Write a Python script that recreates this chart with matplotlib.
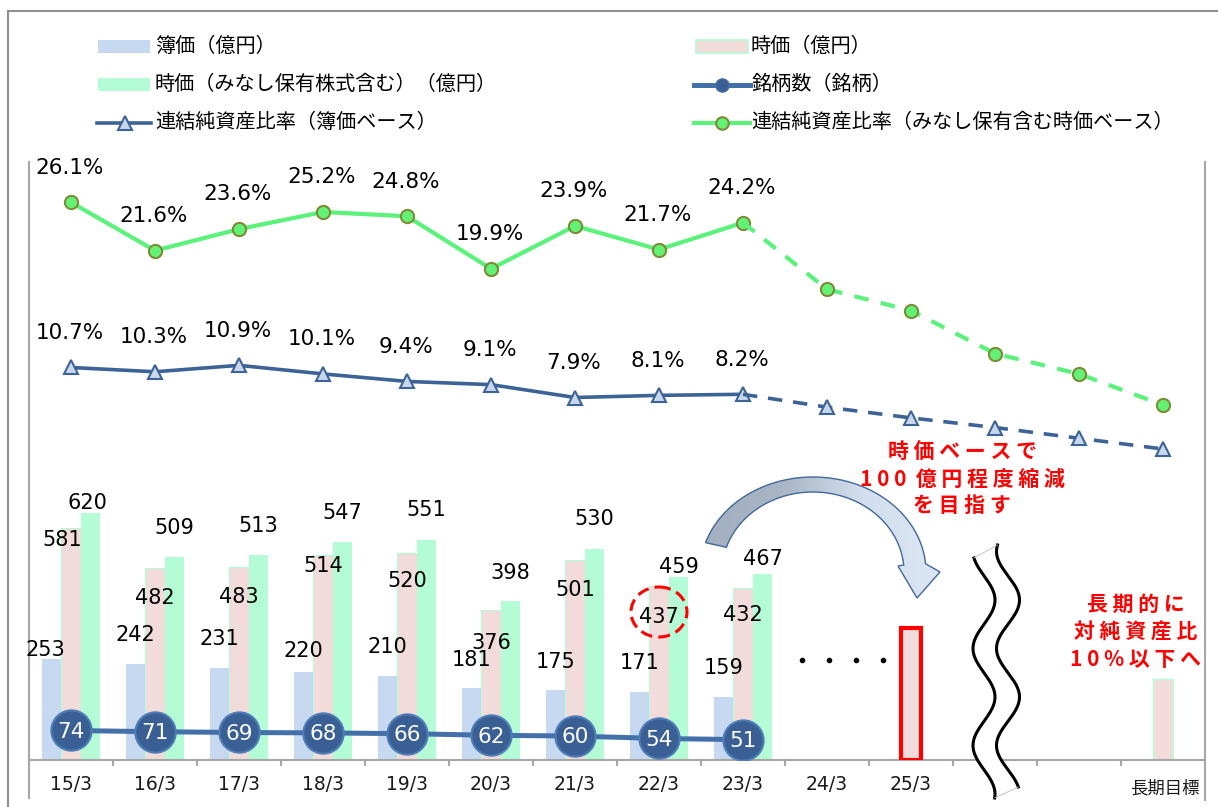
import numpy as np
import matplotlib
matplotlib.use('Agg')
import matplotlib.pyplot as plt
from matplotlib.patches import Polygon, Rectangle, Ellipse
from matplotlib.colors import LinearSegmentedColormap

plt.rcParams['font.family'] = ['DejaVu Sans', 'Noto Sans CJK JP']

# ---------------- data ----------------
categories = ['15/3', '16/3', '17/3', '18/3', '19/3', '20/3', '21/3', '22/3', '23/3',
              '24/3', '25/3', '', '', '長期目標']
book_value = [253, 242, 231, 220, 210, 181, 175, 171, 159]            # 簿価（億円）
market_value = [581, 482, 483, 514, 520, 376, 501, 437, 432]          # 時価（億円）
market_target_25 = 332                                                # 25/3 目標（時価）
market_target_long = 203                                              # 長期目標（時価）
market_incl_deemed = [620, 509, 513, 547, 551, 398, 530, 459, 467]    # 時価（みなし保有株式含む）
holdings_count = [74, 71, 69, 68, 66, 62, 60, 54, 51]                 # 銘柄数
ratio_book = [10.7, 10.3, 10.9, 10.1, 9.4, 9.1, 7.9, 8.1, 8.2]         # 連結純資産比率（簿価）
ratio_book_plan = [7.0, 6.0, 5.1, 4.1, 3.1]
ratio_market = [26.1, 21.6, 23.6, 25.2, 24.8, 19.9, 23.9, 21.7, 24.2]  # 連結純資産比率（時価）
ratio_market_plan = [18.0, 16.0, 12.0, 10.1, 7.2]

legend_labels = ['簿価（億円）', '時価（億円）', '時価（みなし保有株式含む）（億円）',
                 '銘柄数（銘柄）', '連結純資産比率（簿価ベース）',
                 '連結純資産比率（みなし保有含む時価ベース）']

# label offsets (pixels, + = above the bar top) - layout only
book_lbl_dy = [9, 29, 29, 21, 29, 28, 28, 29, 29]
book_lbl_dx = [-6, 0, 0, 0, 0, 0, 0, 0, 0]
mkt_lbl_dy = [-12, -30, -30, -11, -28, -33, -30, -31, -27]
mkt_lbl_dx = [-8.5, 0, 0, 0, 0, 0, 0, 0, 0]
incl_lbl_dy = [10, 29, 29.5, 29, 30, 28, 30, 10.5, 15]
incl_lbl_dx = [-3, 0, 0, 0, 0, 0, 0, 0, 0]

# ---------------- style ----------------
C_BOOK = '#C6D9F1'
C_MKT = '#F2DCDB'
C_INCL = '#B3FCD6'
C_CNT_LINE = '#4470AA'
C_CNT_FACE = '#3A5F94'
C_BLUE = '#3C6398'
C_GREEN = '#5AF27A'
C_AXIS = '#A6A6A6'
PX = 0.72  # pixel -> points

W, H = 1218, 807
fig = plt.figure(figsize=(W / 100, H / 100), dpi=100)
L, R, T, B = 29, 1205, 162, 760
ax = fig.add_axes([L / W, (H - B) / H, (R - L) / W, (B - T) / H])
ax.set_xlim(-0.5, 13.5)
ax.set_ylim(0, 1500)

n = len(book_value)
x = np.arange(n)
bw = 0.232
ax.bar(x - bw, book_value, bw, color=C_BOOK, zorder=2)
ax.bar(x, market_value, bw, color=C_MKT, edgecolor=C_INCL, lw=0.8, zorder=2)
ax.bar(x + bw, market_incl_deemed, bw, color=C_INCL, zorder=2)
ax.bar([10], [market_target_25], bw, color=C_MKT, edgecolor='#FF0000', lw=3, zorder=3)
ax.bar([13], [market_target_long], bw, color=C_MKT, edgecolor=C_INCL, lw=1, zorder=2)

for i in range(n):
    ax.annotate(str(book_value[i]), (x[i] - bw, book_value[i]),
                xytext=(book_lbl_dx[i] * PX, book_lbl_dy[i] * PX), textcoords='offset points',
                ha='center', va='center', fontsize=15, zorder=6)
    ax.annotate(str(market_value[i]), (x[i], market_value[i]),
                xytext=(mkt_lbl_dx[i] * PX, mkt_lbl_dy[i] * PX), textcoords='offset points',
                ha='center', va='center', fontsize=15, zorder=6)
    ax.annotate(str(market_incl_deemed[i]), (x[i] + bw, market_incl_deemed[i]),
                xytext=(incl_lbl_dx[i] * PX, incl_lbl_dy[i] * PX), textcoords='offset points',
                ha='center', va='center', fontsize=15, zorder=6)

# holdings count line
ax.plot(x, holdings_count, color=C_CNT_LINE, lw=3.6, marker='o', ms=29,
        mfc=C_CNT_FACE, mec='#4E7DB8', mew=1.5, zorder=4)
for xi, c in zip(x, holdings_count):
    ax.annotate(str(c), (xi, c), xytext=(0, -1), textcoords='offset points',
                color='white', ha='center', va='center', fontsize=15.5, zorder=7)

# axes styling
ax.spines['top'].set_visible(False)
for s in ['left', 'right', 'bottom']:
    ax.spines[s].set_color(C_AXIS)
    ax.spines[s].set_linewidth(1.5)
ax.set_yticks([])
ax.set_xticks(np.arange(0.5, 13, 1))
ax.set_xticklabels([])
ax.tick_params(axis='x', direction='out', length=4.5, width=1.5, color=C_AXIS)
ax.patch.set_alpha(0)
xt = ax.get_xaxis_transform()
for i, lab in enumerate(categories):
    if lab == '長期目標':
        ax.text(i + 0.02, -28 / (B - T), lab, transform=xt, ha='center', va='center',
                fontsize=12.5, color='#1a1a1a')
    elif lab:
        ax.text(i, -25 / (B - T), lab, transform=xt, ha='center', va='center',
                fontsize=13.5, color='#1a1a1a')

# ratio lines (secondary axis)
ax2 = ax.twinx()
ax2.set_ylim(-25.9, 29.86)
ax2.set_yticks([])
for s in ax2.spines.values():
    s.set_visible(False)
xa = np.arange(len(ratio_market))
ax2.plot(xa, ratio_market, color=C_GREEN, lw=3, marker='o', ms=9.5,
         mfc='#62F274', mec='#7E8B36', mew=1.5, zorder=3)
xp = np.arange(len(ratio_market) - 1, len(ratio_market) + len(ratio_market_plan))
ax2.plot(xp, [ratio_market[-1]] + ratio_market_plan, color=C_GREEN, lw=3,
         ls=(0, (3.5, 3)), marker='o', ms=9.5, markevery=list(range(1, len(xp))),
         mfc='#62F274', mec='#7E8B36', mew=1.5, zorder=3)
ax2.plot(xa, ratio_book, color=C_BLUE, lw=2.6, marker='^', ms=10.5,
         mfc='#C9D7EC', mec=C_BLUE, mew=1.5, zorder=3)
ax2.plot(xp, [ratio_book[-1]] + ratio_book_plan, color=C_BLUE, lw=2.6,
         ls=(0, (4, 3)), marker='^', ms=10.5, markevery=list(range(1, len(xp))),
         mfc='#C9D7EC', mec=C_BLUE, mew=1.5, zorder=3)
for xi, v in zip(xa, ratio_market):
    ax2.annotate(f'{v:.1f}%', (xi, v), xytext=(-1, 25), textcoords='offset points',
                 ha='center', va='center', fontsize=15.5, annotation_clip=False)
for xi, v in zip(xa, ratio_book):
    ax2.annotate(f'{v:.1f}%', (xi, v), xytext=(-1, 25), textcoords='offset points',
                 ha='center', va='center', fontsize=15.5, annotation_clip=False)

# ---------------- overlay (annotations in pixel space) ----------------
ov = fig.add_axes([0, 0, 1, 1], zorder=10)
ov.patch.set_alpha(0)
ov.axis('off')

# outer frame
ov.plot([8, 1218], [10.5, 10.5], color='#8E8E8E', lw=1.5)
ov.plot([8, 8], [10.5, 807], color='#8E8E8E', lw=1.5)
# axis line extensions below the category axis
ov.plot([L, L], [B, 798], color=C_AXIS, lw=1.5)
ov.plot([R, R], [B, 800], color=C_AXIS, lw=1.5)

# legend
fs_leg = 14.5
ov.add_patch(Rectangle((98, 40), 52, 13, fc=C_BOOK, ec='none'))
ov.text(155, 46, legend_labels[0], va='center', ha='left', fontsize=fs_leg)
ov.add_patch(Rectangle((98, 78), 52, 13, fc=C_INCL, ec='none'))
ov.text(155, 84, legend_labels[2], va='center', ha='left', fontsize=fs_leg)
ov.plot([97, 151], [122.5, 122.5], color=C_BLUE, lw=2.6)
ov.plot([125], [122.5], marker='^', ms=9.5, mfc='#C9D7EC', mec=C_BLUE, mew=1.5)
ov.text(155, 122, legend_labels[4], va='center', ha='left', fontsize=fs_leg)
ov.add_patch(Rectangle((696, 40), 52, 13, fc=C_MKT, ec=C_INCL, lw=1.2))
ov.text(751, 46, legend_labels[1], va='center', ha='left', fontsize=fs_leg)
ov.plot([694, 750], [84.5, 84.5], color=C_CNT_LINE, lw=3.6)
ov.plot([722], [84.5], marker='o', ms=9.5, mfc=C_CNT_FACE, mec=C_CNT_LINE)
ov.text(751, 84, legend_labels[3], va='center', ha='left', fontsize=fs_leg)
ov.plot([694, 750], [122.5, 122.5], color=C_GREEN, lw=3)
ov.plot([722], [122.5], marker='o', ms=9, mfc='#62F274', mec='#7E8B36', mew=1.5)
ov.text(751, 122, legend_labels[5], va='center', ha='left', fontsize=fs_leg)

# curved arrow with gradient
th_o = np.radians(np.linspace(162, 5, 90))
th_i = np.radians(np.linspace(5, 162, 90))
ox = 813 + 113 * np.cos(th_o)
oy = 572 - 95 * np.sin(th_o)
ix = 813 + 91 * np.cos(th_i)
iy = 572 - 80 * np.sin(th_i)
verts = list(zip(ox, oy)) + [(940, 572), (917, 598), (898, 566)] + list(zip(ix, iy))
arrow = Polygon(verts, closed=True, fc='none', ec='#41689C', lw=1, zorder=3)
ov.add_patch(arrow)
cmap = LinearSegmentedColormap.from_list('g', ['#A3B0BF', '#A8B5C4', '#D3DFEE', '#DCE6F3'])
im = ov.imshow(np.linspace(0, 1, 256).reshape(1, -1), extent=(700, 945, 600, 470),
               cmap=cmap, aspect='auto', zorder=2)
im.set_clip_path(arrow)

# text in red
red_fam = ['Noto Sans CJK JP', 'DejaVu Sans']
for txt, yy in [('時 価 ベ ー ス で', 452), ('1 0 0  億 円 程 度 縮 減', 479), ('を 目 指 す', 506)]:
    ov.text(962, yy, txt, ha='center', va='center', fontsize=15, fontweight='bold',
            color='#FF0000', family=red_fam)
for txt, yy in [('長 期 的 に', 604), ('対 純 資 産 比', 632), ('1 0 % 以 下 へ', 659)]:
    ov.text(1136, yy, txt, ha='center', va='center', fontsize=15, fontweight='bold',
            color='#FF0000', family=red_fam)

# dashed red circle around 22/3 market value label
ov.add_patch(Ellipse((659, 612), 56, 50, fill=False, ec='#FF0000', lw=2.2,
                     ls=(0, (3.9, 2.0))))

# dots for 24/3
ov.scatter([802, 829, 856, 883], [660] * 4, s=9, color='black', zorder=4)

# wavy break
yl = np.linspace(558, 798, 240)
xl = 984 + 11 * np.sin(2 * np.pi * (yl - 575.75) / 97)
yr = np.linspace(545, 787, 240)
xr = 1008 + 11.5 * np.sin(2 * np.pi * (yr - 575.75) / 97)
band = Polygon(list(zip(xl, yl)) + list(zip(xr[::-1], yr[::-1])), closed=True,
               fc='white', ec='none', zorder=5)
ov.add_patch(band)
ov.plot(xl, yl, color='black', lw=2.2, zorder=6)
ov.plot(xr, yr, color='black', lw=2.2, zorder=6)
ov.plot([xl[0], xr[0]], [yl[0], yr[0]], color='#BBBBBB', lw=0.6, zorder=6)
ov.plot([xl[-1], xr[-1]], [yl[-1], yr[-1]], color='#BBBBBB', lw=0.6, zorder=6)

ov.set_xlim(0, W)
ov.set_ylim(H, 0)

fig.savefig('out.png', dpi=100)
